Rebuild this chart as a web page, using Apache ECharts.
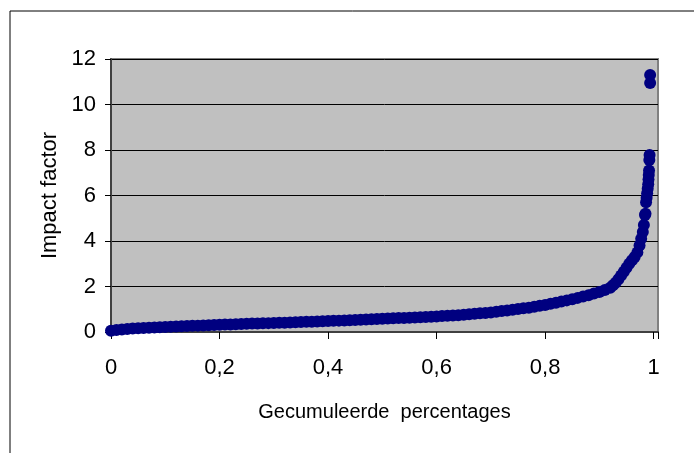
<!DOCTYPE html>
<html>
<head>
<meta charset="utf-8">
<script src="https://cdn.jsdelivr.net/npm/echarts@6/dist/echarts.min.js"></script>
<style>
  html, body { margin: 0; padding: 0; background: #fff; }
  #chart { width: 694px; height: 453px; }
</style>
</head>
<body>
<div id="chart"></div>
<script>
// cumulative share of journals (x) against their impact factor (y)
const pct = [
  0, 0.01, 0.02, 0.03, 0.04, 0.05, 0.06, 0.07, 0.08, 0.09,
  0.10, 0.11, 0.12, 0.13, 0.14, 0.15, 0.16, 0.17, 0.18, 0.19,
  0.20, 0.21, 0.22, 0.23, 0.24, 0.25, 0.26, 0.27, 0.28, 0.29,
  0.30, 0.31, 0.32, 0.33, 0.34, 0.35, 0.36, 0.37, 0.38, 0.39,
  0.40, 0.41, 0.42, 0.43, 0.44, 0.45, 0.46, 0.47, 0.48, 0.49,
  0.50, 0.51, 0.52, 0.53, 0.54, 0.55, 0.56, 0.57, 0.58, 0.59,
  0.60, 0.61, 0.62, 0.63, 0.64, 0.65, 0.66, 0.67, 0.68, 0.69,
  0.70, 0.71, 0.72, 0.73, 0.74, 0.75, 0.76, 0.77, 0.78, 0.79,
  0.80, 0.81, 0.82, 0.83, 0.84, 0.85, 0.86, 0.87, 0.88, 0.89,
  0.90, 0.91, 0.92, 0.925, 0.93, 0.935, 0.94, 0.945, 0.95, 0.955,
  0.96, 0.965, 0.97, 0.974, 0.977, 0.98, 0.982, 0.984, 0.985, 0.986,
  0.987, 0.988, 0.989, 0.99, 0.9905, 0.991, 0.9915, 0.992, 0.9925, 0.9935,
  0.9935
];
const impact = [
  0.05, 0.09, 0.11, 0.13, 0.15, 0.16, 0.18, 0.19, 0.20, 0.21,
  0.22, 0.23, 0.24, 0.25, 0.26, 0.27, 0.28, 0.29, 0.30, 0.31,
  0.32, 0.33, 0.33, 0.34, 0.35, 0.36, 0.37, 0.37, 0.38, 0.39,
  0.40, 0.41, 0.41, 0.42, 0.43, 0.44, 0.45, 0.45, 0.46, 0.47,
  0.48, 0.49, 0.50, 0.51, 0.52, 0.53, 0.54, 0.55, 0.56, 0.57,
  0.58, 0.59, 0.60, 0.61, 0.62, 0.63, 0.64, 0.65, 0.66, 0.67,
  0.68, 0.70, 0.71, 0.73, 0.74, 0.76, 0.78, 0.80, 0.82, 0.84,
  0.86, 0.89, 0.92, 0.95, 0.98, 1.01, 1.04, 1.07, 1.11, 1.15,
  1.19, 1.24, 1.29, 1.34, 1.39, 1.44, 1.50, 1.56, 1.62, 1.69,
  1.76, 1.85, 1.95, 2.05, 2.17, 2.32, 2.48, 2.65, 2.82, 3.00,
  3.15, 3.30, 3.50, 3.80, 4.10, 4.40, 4.70, 5.14, 5.20, 5.70,
  5.90, 6.10, 6.30, 6.50, 6.70, 6.90, 7.10, 7.56, 7.78, 10.95,
  11.3
];
const xTicks = [0, 0.2, 0.4, 0.6, 0.8, 1];
const yTicks = [0, 2, 4, 6, 8, 10, 12];

const points = pct.map((p, i) => [p, impact[i]]);
const font = 'Arial, "Liberation Sans", sans-serif';

const chart = echarts.init(document.getElementById('chart'));
chart.setOption({
  animation: false,
  backgroundColor: '#ffffff',
  grid: {
    left: 111, right: 36, top: 59, bottom: 121,
    show: true,
    backgroundColor: '#c0c0c0',
    borderColor: '#808080',
    borderWidth: 2
  },
  graphic: [{
    type: 'rect',
    shape: { x: 10, y: 11, width: 700, height: 460 },
    style: { fill: null, stroke: '#000', lineWidth: 1 },
    silent: true
  }],
  xAxis: {
    type: 'value',
    min: 0, max: 1.008, interval: 0.2,
    name: 'Gecumuleerde  percentages',
    nameLocation: 'middle',
    nameGap: 70,
    nameTextStyle: { fontFamily: font, fontSize: 20, color: '#000' },
    axisLine: { lineStyle: { color: '#404040', width: 2 } },
    axisTick: { length: 7, lineStyle: { color: '#000' } },
    splitLine: { show: false },
    axisLabel: {
      margin: 25, fontFamily: font, fontSize: 22, color: '#000',
      formatter: v => xTicks.some(t => Math.abs(t - v) < 1e-9) ? String(+v.toFixed(1)).replace('.', ',') : ''
    }
  },
  yAxis: {
    type: 'value',
    min: 0, max: 12, interval: 2,
    name: 'Impact factor',
    nameLocation: 'middle',
    nameGap: 50,
    nameTextStyle: { fontFamily: font, fontSize: 22, color: '#000' },
    axisLine: { show: true, lineStyle: { color: '#404040', width: 2 } },
    axisTick: { show: true, length: 6, lineStyle: { color: '#000' } },
    splitLine: { lineStyle: { color: '#000', width: 1 } },
    axisLabel: {
      margin: 15, fontFamily: font, fontSize: 22, color: '#000',
      formatter: v => yTicks.includes(v) ? String(v) : ''
    }
  },
  series: [{
    type: 'scatter',
    data: points,
    symbol: 'circle',
    symbolSize: 12,
    itemStyle: { color: '#000080', opacity: 1 }
  }]
});
</script>
</body>
</html>
